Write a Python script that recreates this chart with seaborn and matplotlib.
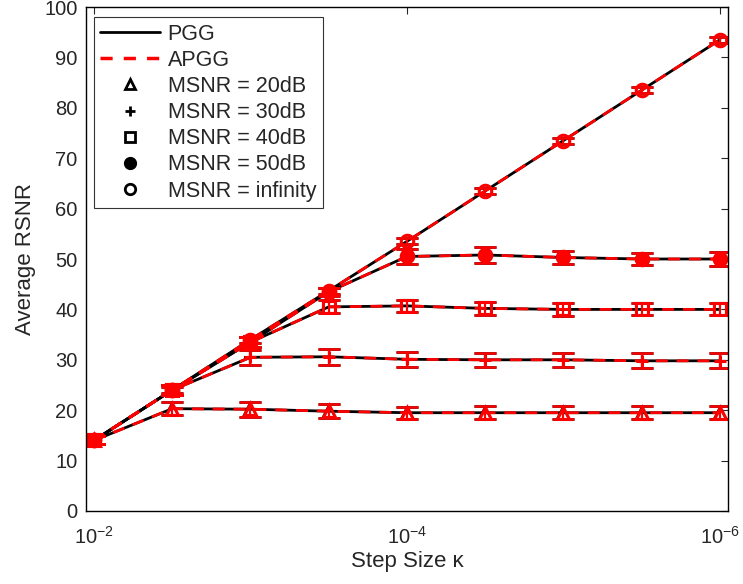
import numpy as np
import pandas as pd
import matplotlib
matplotlib.use("Agg")
import matplotlib.pyplot as plt
import seaborn as sns
from matplotlib.lines import Line2D

# ---- data ----
exponents = [-2, -2.5, -3, -3.5, -4, -4.5, -5, -5.5, -6]
msnr_labels = ["MSNR = 20dB", "MSNR = 30dB", "MSNR = 40dB", "MSNR = 50dB", "MSNR = infinity"]
markers = ["^", "+", "s", "o", "o"]
filled = [False, False, False, True, False]

pgg_20 = [14.0, 20.3, 20.2, 19.8, 19.5, 19.5, 19.5, 19.5, 19.5]
pgg_30 = [14.0, 24.0, 30.5, 30.6, 30.1, 30.0, 30.0, 29.8, 29.8]
pgg_40 = [14.0, 24.0, 33.5, 40.5, 40.7, 40.2, 40.0, 40.0, 40.0]
pgg_50 = [14.0, 24.0, 33.5, 43.5, 50.5, 50.8, 50.3, 50.0, 50.0]
pgg_inf = [14.0, 24.0, 34.0, 43.7, 53.5, 63.5, 73.5, 83.5, 93.5]

apgg_20 = [14.0, 20.3, 20.2, 19.8, 19.5, 19.5, 19.5, 19.5, 19.5]
apgg_30 = [14.0, 24.0, 30.5, 30.6, 30.1, 30.0, 30.0, 29.8, 29.8]
apgg_40 = [14.0, 24.0, 33.5, 40.5, 40.7, 40.2, 40.0, 40.0, 40.0]
apgg_50 = [14.0, 24.0, 33.5, 43.5, 50.5, 50.8, 50.3, 50.0, 50.0]
apgg_inf = [14.0, 24.0, 34.0, 43.7, 53.5, 63.5, 73.5, 83.5, 93.5]

err_20 = [0.8, 1.3, 1.5, 1.4, 1.2, 1.3, 1.3, 1.3, 1.3]
err_30 = [0.8, 1.0, 1.5, 1.6, 1.5, 1.4, 1.4, 1.5, 1.5]
err_40 = [0.8, 1.0, 1.0, 1.3, 1.2, 1.3, 1.3, 1.2, 1.2]
err_50 = [0.8, 1.0, 1.0, 0.8, 1.4, 1.5, 1.3, 1.2, 1.3]
err_inf = [0.8, 0.6, 0.6, 0.6, 0.6, 0.6, 0.6, 0.6, 0.6]

kappa = [10.0 ** e for e in exponents]
pgg = [pgg_20, pgg_30, pgg_40, pgg_50, pgg_inf]
apgg = [apgg_20, apgg_30, apgg_40, apgg_50, apgg_inf]
errs = [err_20, err_30, err_40, err_50, err_inf]

rows = []
for lab, p, a, e in zip(msnr_labels, pgg, apgg, errs):
    for k, pv, av, ev in zip(kappa, p, a, e):
        rows.append(dict(kappa=k, msnr=lab, method="PGG", rsnr=pv, err=ev))
        rows.append(dict(kappa=k, msnr=lab, method="APGG", rsnr=av, err=ev))
df = pd.DataFrame(rows)

sns.set_theme(style="white")
plt.rcParams["font.family"] = ["Liberation Sans", "DejaVu Sans"]
plt.rcParams["mathtext.fontset"] = "custom"
plt.rcParams["mathtext.rm"] = "Liberation Sans"
plt.rcParams["mathtext.it"] = "Liberation Sans"

fig = plt.figure(figsize=(7.43, 5.84), dpi=100)
ax = fig.add_axes([0.1157, 0.125, 0.864, 0.863])

dash = (0, (4.3, 3.2))
for method, color, ls, lw, mew in [("PGG", "black", "-", 2.0, 1.5), ("APGG", "red", dash, 2.0, 2.2)]:
    for lab, m, f in zip(msnr_labels, markers, filled):
        sub = df[(df.method == method) & (df.msnr == lab)]
        sns.lineplot(data=sub, x="kappa", y="rsnr", ax=ax, color=color,
                     linestyle=ls, linewidth=lw, legend=False, errorbar=None, sort=False)
        ax.errorbar(sub["kappa"], sub["rsnr"], yerr=sub["err"], fmt="none",
                    ecolor=color, elinewidth=1.5, capsize=8, capthick=1.8)
        ax.plot(sub["kappa"], sub["rsnr"], linestyle="none", marker=m,
                markersize=9, markeredgecolor=color, markeredgewidth=mew,
                markerfacecolor=color if f else "none")

ax.set_xscale("log")
ax.set_xlim(10 ** -1.949, 10 ** -6.051)
ax.set_ylim(0, 100)
ax.set_xticks([1e-2, 1e-4, 1e-6])
ax.set_xticklabels([r"$\mathregular{10^{-2}}$", r"$\mathregular{10^{-4}}$", r"$\mathregular{10^{-6}}$"])
ax.minorticks_off()
ax.set_yticks(np.arange(0, 101, 10))
ax.tick_params(direction="in", top=True, right=True, labelsize=14.5, length=5, width=0.8)
ax.tick_params(axis="x", pad=11)
ax.tick_params(axis="y", pad=6)
for s in ax.spines.values():
    s.set_color("black")
    s.set_linewidth(1.0)
ax.set_xlabel("Step Size κ", fontsize=16, labelpad=2)
ax.set_ylabel("Average RSNR", fontsize=16, labelpad=6)

handles = [Line2D([], [], color="black", lw=2, ls="-"),
           Line2D([], [], color="red", lw=2.5, ls=(0, (3.5, 3.2)))]
for m, f in zip(markers, filled):
    handles.append(Line2D([], [], ls="none", marker=m, markersize=7.5, color="black",
                          markeredgewidth=2, markerfacecolor="black" if f else "none"))
leg = ax.legend(handles, ["PGG", "APGG"] + msnr_labels, loc="upper left",
                bbox_to_anchor=(0.0125, 0.98), fontsize=15.5, frameon=True, fancybox=False,
                edgecolor="black", handlelength=2.75, labelspacing=0.24, borderpad=0.3,
                handletextpad=0.37, borderaxespad=0)
leg.get_frame().set_linewidth(0.8)

fig.savefig("out.png", dpi=100)
